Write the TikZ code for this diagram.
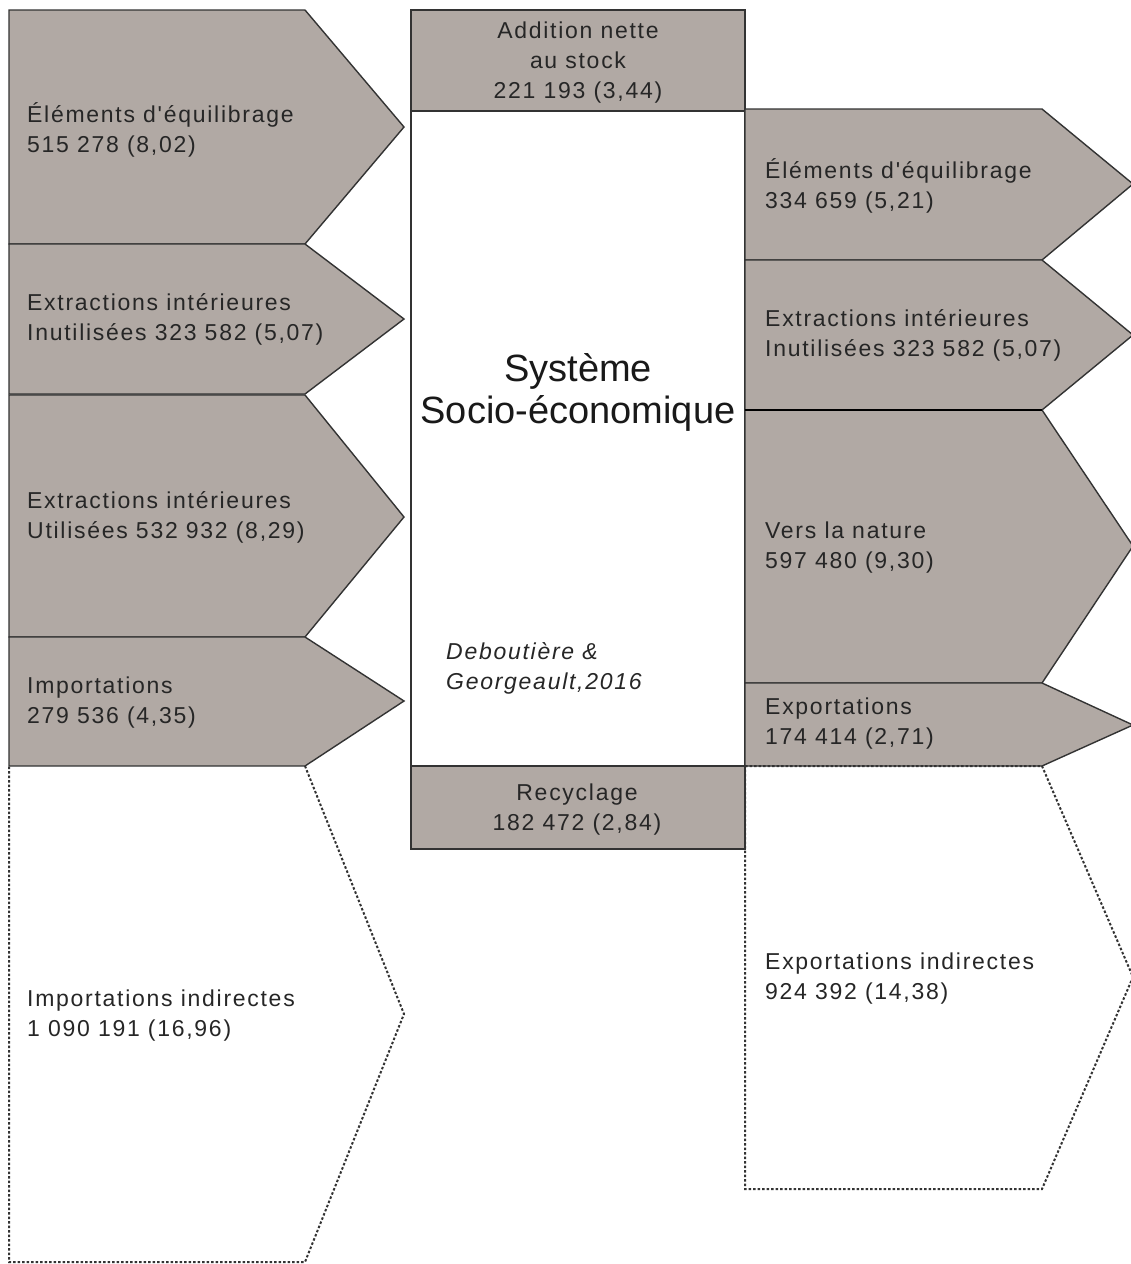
\documentclass[tikz,border=0pt]{standalone}
\usepackage{fontspec}
\setmainfont{Liberation Sans}
\newfontfamily\lbl[LetterSpace=7.5]{Liberation Sans}
\definecolor{boxgrey}{RGB}{177,169,164}
\definecolor{edge}{RGB}{51,51,51}
\tikzset{
  flow/.style={fill=boxgrey,draw=edge,line width=1.4pt,line join=miter},
  ghost/.style={draw=edge,line width=2pt,dash pattern=on 2.5pt off 2pt},
  plain/.style={fill=white,draw=edge,line width=1.4pt},
  lab/.style={font=\lbl\fontsize{23}{30}\selectfont,align=left,anchor=west,inner sep=0pt,text=black!85},
  clab/.style={font=\lbl\fontsize{23}{30}\selectfont,align=center,inner sep=0pt,text=black!85}
}
\begin{document}
\begin{tikzpicture}[x=1pt,y=-1pt]
\useasboundingbox (0,0) rectangle (1131,1264);
% left column
\draw[flow] (9,10) -- (305,10) -- (404,127) -- (305,244) -- (9,244) -- cycle;
\draw[flow] (9,244) -- (305,244) -- (404,319) -- (305,394) -- (9,394) -- cycle;
\draw[flow] (9,395) -- (305,395) -- (404,517) -- (305,637) -- (9,637) -- cycle;
\draw[flow] (9,637) -- (305,637) -- (404,701) -- (305,766) -- (9,766) -- cycle;
\draw[ghost] (305,766) -- (404,1014) -- (305,1262) -- (9,1262) -- (9,766);
% centre
\draw[flow] (411,10) rectangle (745,111);
\draw[plain] (411,111) rectangle (745,766);
\draw[flow] (411,766) rectangle (745,849);
% right column
\draw[flow] (745,109) -- (1042,109) -- (1133,184) -- (1042,260) -- (745,260) -- cycle;
\draw[flow] (745,260) -- (1042,260) -- (1133,335) -- (1042,410) -- (745,410) -- cycle;
\draw[flow] (745,410) -- (1042,410) -- (1133,546) -- (1042,683) -- (745,683) -- cycle;
\draw[flow] (745,683) -- (1042,683) -- (1133,725) -- (1042,766) -- (745,766) -- cycle;
\draw[black,line width=2.6pt] (745,410) -- (1042,410);
\draw[ghost] (745,766) -- (1042,766) -- (1133,977) -- (1042,1189) -- (745,1189) -- (745,766);
% left labels
\node[lab] (l1) at (27,129.5) {Éléments d'équilibrage\\515 278 (8,02)};
\node[lab] (l2) at (27,319.5) {Extractions intérieures\\Inutilisées 323 582 (5,07)};
\node[lab] (l3) at (27,517.5) {Extractions intérieures\\Utilisées 532 932 (8,29)};
\node[lab] (l4) at (27,702.5) {Importations\\279 536 (4,35)};
\node[lab] (l5) at (27,1015.5) {Importations indirectes\\1 090 191 (16,96)};
% centre labels
\node[clab] (c1) at (578,62.5) {Addition nette\\au stock\\221 193 (3,44)};
\node[font=\fontsize{38}{42}\selectfont,align=center,inner sep=0pt,text=black!90] (c2) at (578,392) {Système\\Socio-économique};
\node[lab,font=\lbl\itshape\fontsize{23}{30}\selectfont] (c3) at (446,668.5) {Deboutière \&\\Georgeault,2016};
\node[clab] (c4) at (577,809.5) {Recyclage\\182 472 (2,84)};
% right labels
\node[lab] (r1) at (765,185.5) {Éléments d'équilibrage\\334 659 (5,21)};
\node[lab] (r2) at (765,335.5) {Extractions intérieures\\Inutilisées 323 582 (5,07)};
\node[lab] (r3) at (765,547.5) {Vers la nature\\597 480 (9,30)};
\node[lab] (r4) at (765,723.5) {Exportations\\174 414 (2,71)};
\node[lab] (r5) at (765,978.5) {Exportations indirectes\\924 392 (14,38)};
\end{tikzpicture}
\end{document}
